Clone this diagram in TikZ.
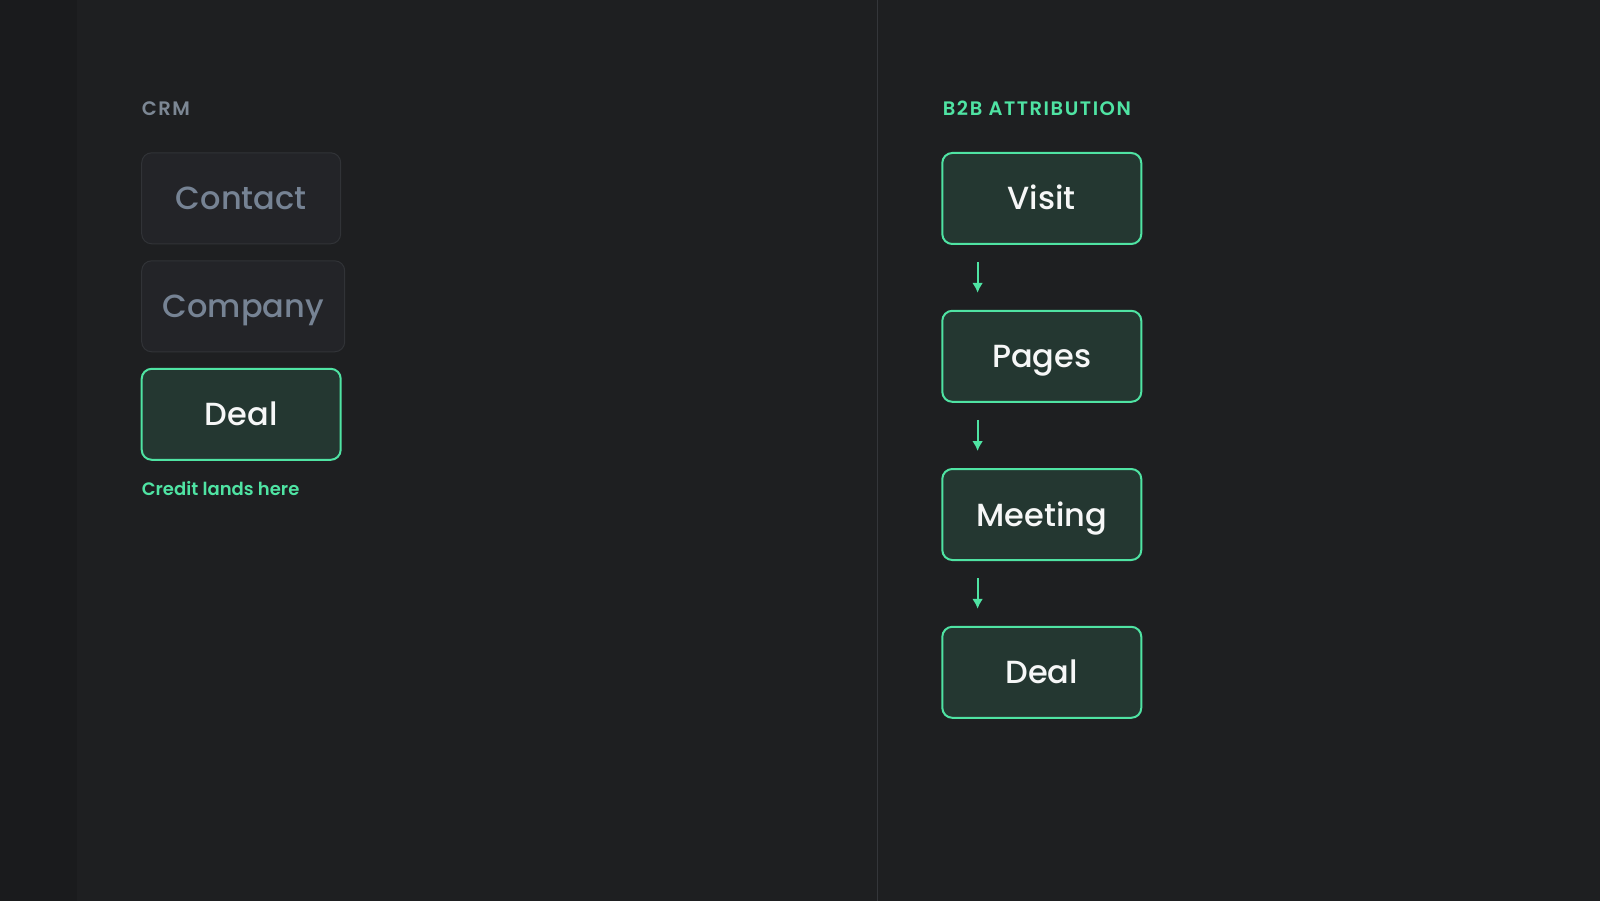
\documentclass[tikz,border=0pt]{standalone}
\usepackage{fontspec}
\setmainfont{Poppins Medium}
\newfontfamily\grasfont{Poppins SemiBold}
\newfontfamily\titrefont[LetterSpace=8]{Poppins SemiBold}
\usetikzlibrary{arrows.meta}
\definecolor{fond}{HTML}{1E1F21}
\definecolor{bande}{HTML}{1A1B1D}
\definecolor{trait}{HTML}{34363A}
\definecolor{fondgris}{HTML}{232428}
\definecolor{bordgris}{HTML}{313337}
\definecolor{textegris}{HTML}{768394}
\definecolor{grislabel}{HTML}{7C8794}
\definecolor{vert}{HTML}{4FE3A3}
\definecolor{fondvert}{HTML}{243731}
\definecolor{blanc}{HTML}{F6F7F7}
\begin{document}
\begin{tikzpicture}[x=1pt, y=-1pt]
	\tikzset{boite/.style={rectangle, rounded corners=10pt, draw=bordgris, fill=fondgris, text=textegris, minimum width=199pt, minimum height=91pt, inner sep=0pt, line width=1pt, text height=23pt, text depth=0pt, font=\fontsize{32}{38}\selectfont},
	actif/.style={boite, draw=vert, fill=fondvert, text=blanc, line width=2pt},
	fleche/.style={draw=vert, line width=2pt, -{Latex[length=10pt,width=11pt]}, shorten <=17pt, shorten >=17pt},
	titre/.style={anchor=base west, inner sep=0pt, font=\titrefont\fontsize{19.5}{24}\selectfont}};

	% fond
	\fill[fond] (0,0) rectangle (1600,900);
	\fill[bande] (0,0) rectangle (77,900);
	\draw[trait, line width=1pt] (877.3,0) -- (877.3,900);
	\useasboundingbox (0,0) rectangle (1600,900);

	% colonne CRM
	\node[titre, text=grislabel] (crm) at (141.7,115) {CRM};
	\node[boite] (contact) at (241.2,197.8) {Contact};
	\node[boite, minimum width=203pt] (company) at (243.2,305.8) {Company};
	\node[actif] (deal-crm) at (241.2,413.8) {Deal};
	\node[anchor=base west, inner sep=0pt, text=vert, font=\grasfont\fontsize{18}{22}\selectfont] (credit) at (141.7,495) {Credit lands here};

	% colonne B2B
	\node[titre, text=vert] (b2b) at (942.7,115) {B2B ATTRIBUTION};
	\foreach \name/\y/\texte in {visit/198/Visit, pages/355.8/Pages, meeting/514/Meeting, deal/671.8/Deal}{
		\node[actif] (\name) at (1041.8,\y) {\texte};
	}
	\foreach \a/\b in {visit/pages, pages/meeting, meeting/deal}{
		\draw[fleche] ([xshift=36.3pt]\a.south west) -- ([xshift=36.3pt]\b.north west);
	}
\end{tikzpicture}
\end{document}
